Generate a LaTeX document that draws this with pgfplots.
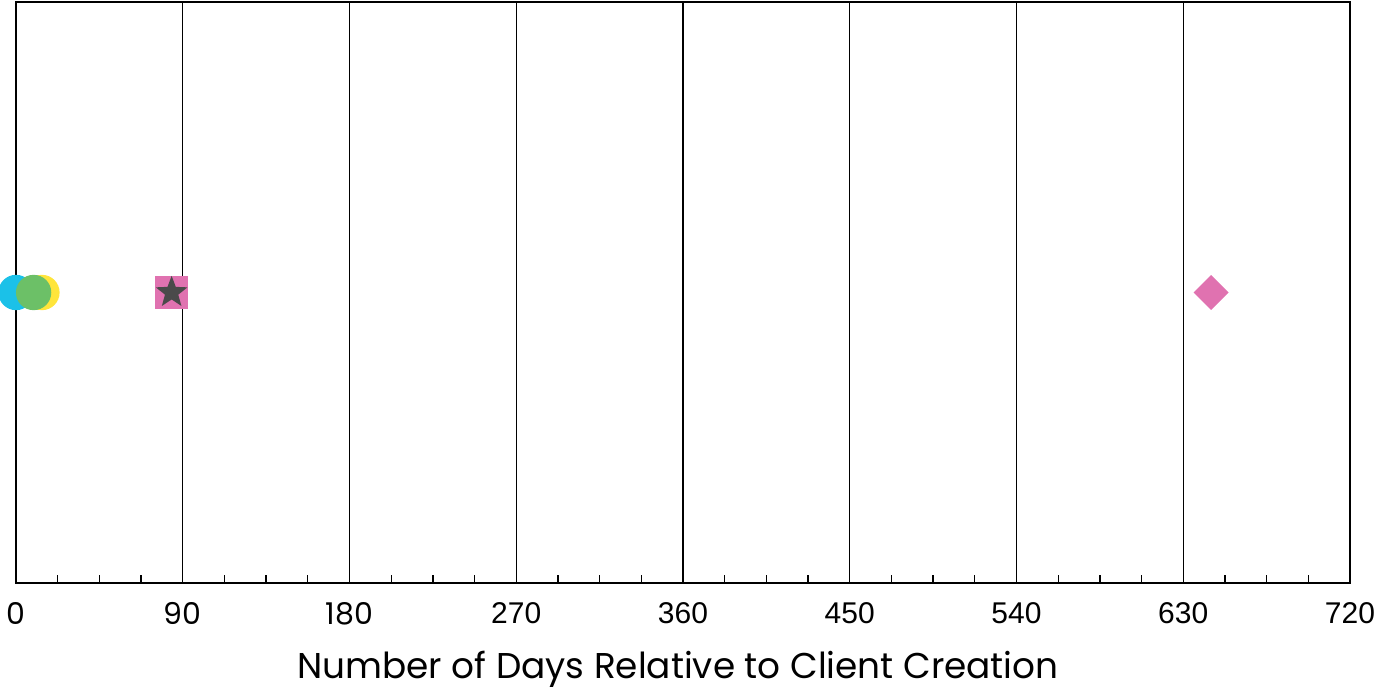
\documentclass[border=0pt]{standalone}
\usepackage{pgfplots}
\pgfplotsset{compat=1.18}
\usepackage{fontspec}
\setmainfont{Liberation Sans}
\newfontfamily\poppins{Poppins}
\definecolor{ccyan}{HTML}{1BC1E8}
\definecolor{cyellow}{HTML}{FFE53B}
\definecolor{cgreen}{HTML}{6CC067}
\definecolor{cpink}{HTML}{E072B0}
\definecolor{cstar}{HTML}{4A4A4A}
% filled five-pointed star
\pgfdeclareplotmark{fstar}{%
  \pgfpathmoveto{\pgfqpointpolar{90}{\pgfplotmarksize}}%
  \pgfpathlineto{\pgfqpointpolar{126}{0.42\pgfplotmarksize}}%
  \pgfpathlineto{\pgfqpointpolar{162}{\pgfplotmarksize}}%
  \pgfpathlineto{\pgfqpointpolar{198}{0.42\pgfplotmarksize}}%
  \pgfpathlineto{\pgfqpointpolar{234}{\pgfplotmarksize}}%
  \pgfpathlineto{\pgfqpointpolar{270}{0.42\pgfplotmarksize}}%
  \pgfpathlineto{\pgfqpointpolar{306}{\pgfplotmarksize}}%
  \pgfpathlineto{\pgfqpointpolar{342}{0.42\pgfplotmarksize}}%
  \pgfpathlineto{\pgfqpointpolar{18}{\pgfplotmarksize}}%
  \pgfpathlineto{\pgfqpointpolar{54}{0.42\pgfplotmarksize}}%
  \pgfpathclose
  \pgfusepathqfill}
\begin{document}
\begin{tikzpicture}
% 1 px of the reference = 0.3pt
\path[use as bounding box] (-4.8pt,-30.9pt) rectangle (414.6pt,174.9pt);
\begin{axis}[
    at={(0,0)}, anchor=south west,
    width=400.2pt, height=174.3pt,
    scale only axis,
    xmin=0, xmax=720, ymin=-1, ymax=1,
    clip=false,
    axis line style={line width=0.6pt},
    xtick={0,90,...,720},
    xticklabels={{\poppins 0},{\poppins 90},{\poppins 180},{\rmfamily 270},{\rmfamily 360},{\rmfamily 450},{\rmfamily 540},{\rmfamily 630},{\rmfamily 720}},
    minor x tick num=3,
    xtick pos=bottom,
    xtick align=inside,
    major tick length=0pt,
    minor tick length=2.4pt,
    minor tick style={line width=0.4pt, black},
    xmajorgrids,
    major grid style={line width=0.4pt, black},
    ytick=\empty,
    /pgf/number format/assume math mode=true,
    tick label style={font=\fontsize{9}{10}\selectfont},
    xticklabel style={yshift=-2.4pt},
    xlabel={\poppins Number of Days Relative to Client Creation},
    xlabel style={font=\fontsize{10.75}{12}\selectfont, yshift=-0.8pt, xshift=-1.5pt},
]
\addplot[only marks, mark=*, mark size=5.1pt, color=ccyan] coordinates {(0,0)};
\addplot[only marks, mark=*, mark size=5.1pt, color=cyellow] coordinates {(14,0)};
\addplot[only marks, mark=*, mark size=5.1pt, color=cgreen] coordinates {(9.5,0)};
\addplot[only marks, mark=square*, mark size=4.7pt, color=cpink] coordinates {(84,0)};
\addplot[only marks, mark=fstar, mark size=5pt, color=cstar] coordinates {(84,0)};
\addplot[only marks, mark=square*, mark size=3.5pt, mark options={rotate=45}, color=cpink] coordinates {(645,0)};
\end{axis}
\end{tikzpicture}
\end{document}
